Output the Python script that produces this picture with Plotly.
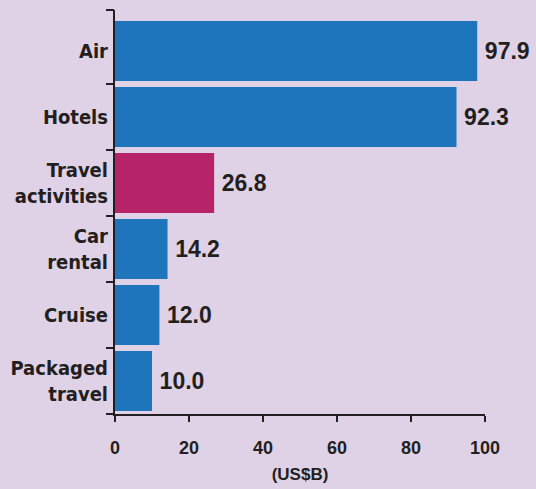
import plotly.graph_objects as go

categories = ["Air", "Hotels", "Travel<br>activities", "Car<br>rental", "Cruise", "Packaged<br>travel"]
values = [97.9, 92.3, 26.8, 14.2, 12.0, 10.0]
highlight = "Travel<br>activities"
x_ticks = [0, 20, 40, 60, 80, 100]
x_title = "(US$B)"

BLUE = "#1F75BC"
MAGENTA = "#B72368"
BG = "#E0D2E6"
INK = "#231F20"
LABEL_FONT = "DejaVu Sans Condensed, Liberation Sans Narrow, sans-serif"
VALUE_FONT = "Liberation Sans, Arial, sans-serif"

colors = [MAGENTA if c == highlight else BLUE for c in categories]

fig = go.Figure()
fig.add_trace(go.Bar(
    x=values, y=categories, orientation="h",
    marker=dict(color=colors, line=dict(width=0)),
    texttemplate="\u2009%{x:.1f}", textposition="outside", cliponaxis=False,
    textfont=dict(family=VALUE_FONT, size=23, color=INK, weight="bold"),
    hoverinfo="skip",
))
# invisible trace to host the boundary tick axis
fig.add_trace(go.Scatter(x=[], y=[], yaxis="y2", showlegend=False, hoverinfo="skip"))

n = len(categories)
boundaries = [i - 0.5 for i in range(n)] + [n - 0.38]

fig.update_layout(
    width=536, height=489,
    margin=dict(l=115, r=51, t=10, b=75),
    paper_bgcolor=BG, plot_bgcolor=BG,
    bargap=0.09, showlegend=False,
    xaxis=dict(
        range=[0, 100], tickmode="array", tickvals=x_ticks,
        ticks="outside", ticklen=6, tickwidth=2, tickcolor=INK,
        showline=True, linewidth=2, linecolor=INK,
        showgrid=False, zeroline=False, automargin=False,
        tickfont=dict(family=VALUE_FONT, size=18, color=INK, weight="bold"),
        ticklabelstandoff=10,
        title=dict(text=x_title, font=dict(family=VALUE_FONT, size=17, color=INK, weight="bold"), standoff=12),
        fixedrange=True,
    ),
    yaxis=dict(
        type="category", categoryorder="array", categoryarray=categories[::-1],
        range=[-0.5, n - 0.38],
        ticks="", showline=True, linewidth=2, linecolor=INK,
        showgrid=False, zeroline=False, automargin=False,
        tickfont=dict(family=LABEL_FONT, size=20, color=INK, weight="bold"),
        ticklabelstandoff=1,
        fixedrange=True,
    ),
    yaxis2=dict(
        overlaying="y", side="left", anchor="x",
        range=[-0.5, n - 0.38], tickmode="array", tickvals=boundaries,
        ticks="outside", ticklen=8, tickwidth=2, tickcolor=INK,
        showticklabels=False, showgrid=False, zeroline=False, showline=False,
        automargin=False, fixedrange=True,
    ),
)

fig.write_html(
    "out.html",
    config={"displayModeBar": False, "staticPlot": True},
    post_script="document.body.style.margin='0';document.body.style.background='" + BG + "';",
)
